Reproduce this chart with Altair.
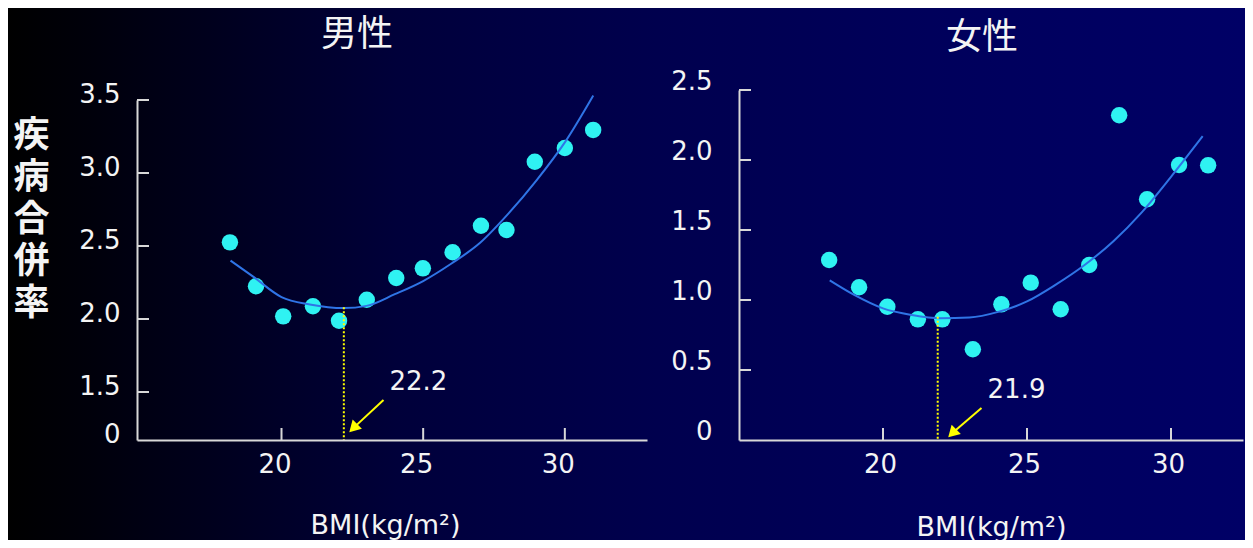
import altair as alt
import pandas as pd

# ---------------- data ----------------
bmi_m = [18.18, 19.10, 20.06, 21.11, 22.03, 23.01, 24.05, 24.99, 26.04, 27.04, 27.94, 28.94, 30.0, 31.0]
rate_m = [2.525, 2.224, 2.018, 2.087, 1.988, 2.132, 2.281, 2.347, 2.457, 2.639, 2.610, 3.077, 3.171, 3.295]
fit_x_m = [18.2, 19.0, 20.0, 21.0, 22.2, 23.0, 24.0, 25.0, 26.0, 27.0, 28.0, 29.0, 30.0, 31.0]
fit_y_m = [2.40, 2.29, 2.15, 2.10, 2.075, 2.09, 2.17, 2.26, 2.38, 2.52, 2.72, 2.95, 3.21, 3.53]

bmi_f = [18.13, 19.17, 20.15, 21.21, 22.06, 23.12, 24.11, 25.13, 26.17, 27.16, 28.20, 29.17, 30.28, 31.29]
rate_f = [1.286, 1.091, 0.952, 0.862, 0.862, 0.648, 0.969, 1.124, 0.934, 1.25, 2.32, 1.72, 1.964, 1.962]
fit_x_f = [18.15, 19.0, 20.0, 21.0, 22.0, 23.0, 24.0, 25.0, 26.0, 27.0, 28.0, 29.0, 30.0, 31.1]
fit_y_f = [1.14, 1.036, 0.94, 0.893, 0.87, 0.875, 0.915, 0.99, 1.11, 1.25, 1.42, 1.63, 1.88, 2.17]

xticks = [20, 25, 30]
yticks_m = [0, 1.5, 2.0, 2.5, 3.0, 3.5]
yticks_f = [0, 0.5, 1.0, 1.5, 2.0, 2.5]

opt_m = 22.2
opt_f = 21.9
opt_top_m = 2.08
opt_top_f = 0.88
arrow_m = [23.60, 1.25, 22.58, 0.41]   # tail x, tail y, tip x, tip y
arrow_f = [23.42, 0.229, 22.45, 0.057]
label_m = [23.81, 1.57]
label_f = [23.63, 0.357]

titles = ["男性", "女性"]
ytitle = ["疾", "病", "合", "併", "率"]
xtitle = "BMI(kg/m²)"

# ---------------- style ----------------
CYAN = "#2ff2f2"
BLUE = "#2f74e6"
YEL = "#ffff00"
AXC = "#d8d8d8"
TXT = "#f4f4f4"
NUMFONT = "DejaVu Sans"
CJK = "Noto Sans CJK JP"


def grad(stops):
    return alt.Gradient(
        gradient="linear", x1=0, x2=1, y1=0, y2=0,
        stops=[alt.GradientStop(offset=o, color=c) for o, c in stops],
    )


def panel(bmi, rate, fx, fy, yticks, xs, ys, ylab_pad, ylab_off, xlab_off,
          opt, opt_top, arrow, label, title, title_pos, width, height,
          xtitle_x, xtitle_y, ytitle_def, bg_box, bg_stops):
    pts = pd.DataFrame({"x": bmi, "y": rate})
    fit = pd.DataFrame({"x": fx, "y": fy})
    yaxis_kw = dict(
        values=yticks, ticks=False, tickSize=0, grid=False, zindex=2,
        domainColor=AXC, domainWidth=2,
        labelColor=TXT, labelFont=NUMFONT, labelFontSize=26,
        labelPadding=ylab_pad, labelOffset=ylab_off,
        labelExpr="datum.value == 0 ? '0' : format(datum.value, '.1f')",
    )
    if ytitle_def is not None:
        yaxis_kw.update(ytitle_def)
    else:
        yaxis_kw["title"] = None
    yax = alt.Axis(**yaxis_kw)
    xax = alt.Axis(
        values=xticks, ticks=False, tickSize=0, grid=False, zindex=2,
        domainColor=AXC, domainWidth=2,
        labelColor=TXT, labelFont=NUMFONT, labelFontSize=26,
        labelPadding=11, labelOffset=xlab_off, labelBaseline="top",
        title=xtitle, titleColor=TXT, titleFont=NUMFONT, titleFontSize=27,
        titleFontWeight="normal", titleX=xtitle_x, titleY=xtitle_y,
        titleAlign="center", titleBaseline="alphabetic",
    )

    bg = alt.Chart(pd.DataFrame({"k": [0]})).mark_rect(color=grad(bg_stops)).encode(
        x=alt.value(bg_box[0]), x2=alt.value(bg_box[1]),
        y=alt.value(bg_box[2]), y2=alt.value(bg_box[3]))
    ttl = alt.Chart(pd.DataFrame({"t": [title]})).mark_text(
        font=CJK, fontSize=36, color=TXT, align="center", baseline="middle").encode(
        x=alt.value(title_pos[0]), y=alt.value(title_pos[1]), text="t:N")
    points = alt.Chart(pts).mark_circle(size=270, color=CYAN, opacity=1).encode(
        x=alt.X("x:Q", scale=xs, axis=xax),
        y=alt.Y("y:Q", scale=ys, axis=yax),
    )
    line = alt.Chart(fit).mark_line(color=BLUE, strokeWidth=2, interpolate="monotone").encode(
        x=alt.X("x:Q", scale=xs, axis=xax),
        y=alt.Y("y:Q", scale=ys, axis=yax),
    )
    ytk = alt.Chart(pd.DataFrame({"y": [v for v in yticks if v != 0]})).mark_rule(
        color=AXC, strokeWidth=2).encode(
        y=alt.Y("y:Q", scale=ys, axis=yax), x=alt.value(0), x2=alt.value(12))
    xtk = alt.Chart(pd.DataFrame({"x": xticks})).mark_rule(
        color=AXC, strokeWidth=2).encode(
        x=alt.X("x:Q", scale=xs, axis=xax), y=alt.value(height), y2=alt.value(height - 12))
    vline = alt.Chart(pd.DataFrame({"x": [opt], "y": [opt_top], "y2": [0]})).mark_rule(
        color=YEL, strokeWidth=2, strokeDash=[2, 2]).encode(
        x=alt.X("x:Q", scale=xs, axis=xax),
        y=alt.Y("y:Q", scale=ys, axis=yax), y2="y2:Q")
    arr = pd.DataFrame({"x": [arrow[0]], "y": [arrow[1]], "x2": [arrow[2]], "y2": [arrow[3]]})
    shaft = alt.Chart(arr).mark_rule(color=YEL, strokeWidth=2).encode(
        x=alt.X("x:Q", scale=xs, axis=xax), y=alt.Y("y:Q", scale=ys, axis=yax),
        x2="x2:Q", y2="y2:Q")
    head = alt.Chart(pd.DataFrame({"x": [arrow[2]], "y": [arrow[3]]})).mark_point(
        shape="triangle", angle=225, size=170, filled=True, color=YEL, opacity=1).encode(
        x=alt.X("x:Q", scale=xs, axis=xax), y=alt.Y("y:Q", scale=ys, axis=yax))
    txt = alt.Chart(pd.DataFrame({"x": [label[0]], "y": [label[1]], "t": [f"{opt}"]})).mark_text(
        align="left", baseline="middle", font=NUMFONT, fontSize=26, color=TXT).encode(
        x=alt.X("x:Q", scale=xs, axis=xax), y=alt.Y("y:Q", scale=ys, axis=yax), text="t:N")
    return alt.layer(bg, ttl, points, line, ytk, xtk, vline, shaft, head, txt).properties(
        width=width, height=height)


xs_m = alt.Scale(domain=[14.9, 32.9], nice=False, zero=False)
ys_m = alt.Scale(domain=[0, 1.5, 3.5], range=[350, 302, 10], nice=False, zero=False)
xs_f = alt.Scale(domain=[15.0, 32.5], nice=False, zero=False)
ys_f = alt.Scale(domain=[0, 2.5], range=[350, 0], nice=False, zero=False)

ytitle_def = dict(title=ytitle, titleAngle=0, titleX=-106, titleY=28, titleAlign="center",
                  titleBaseline="top", titleFont=CJK, titleFontSize=36, titleFontWeight="bold",
                  titleColor=TXT, titleLineHeight=42)

left = panel(bmi_m, rate_m, fit_x_m, fit_y_m, yticks_m, xs_m, ys_m, 17, -6, -7,
             opt_m, opt_top_m, arrow_m, label_m, titles[0], (220, -55), 510, 350, 248, 93,
             ytitle_def, (-129, 520, -82, 450),
             [(0, "#000000"), (0.12, "#00000a"), (0.6, "#00003a"), (1, "#00004e")])
right = panel(bmi_f, rate_f, fit_x_f, fit_y_f, yticks_f, xs_f, ys_f, 27, -9, -3,
              opt_f, opt_top_f, arrow_f, label_f, titles[1], (243, -52), 504, 350, 252, 95,
              None, (-82, 506, -82, 450),
              [(0, "#00004e"), (0.5, "#00005c"), (1, "#000066")])

chart = alt.hconcat(left, right, spacing=0).properties(
    background="#000033",
    padding=0,
).configure_view(stroke=None)

chart.save("out.html", embed_options={"renderer": "svg", "actions": False})
